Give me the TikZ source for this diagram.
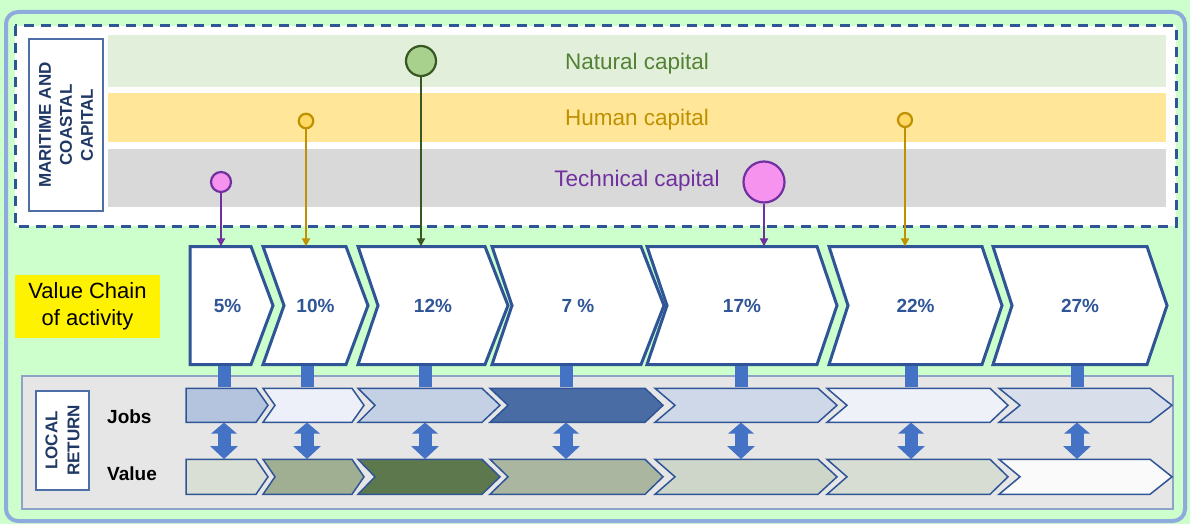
\documentclass[tikz,border=0pt]{standalone}
\usepackage{fontspec}
\setmainfont{Liberation Sans}
\usepackage{xcolor}
\usetikzlibrary{shapes,arrows.meta,positioning,calc}

\definecolor{bgGreen}{HTML}{CCFFCC}
\definecolor{frameBlue}{HTML}{8FAADC}
\definecolor{darkBlue}{HTML}{2F5597}
\definecolor{navy}{HTML}{1F3864}
\definecolor{barBlue}{HTML}{4472C4}
\definecolor{natFill}{HTML}{E2EFDA}
\definecolor{natText}{HTML}{548235}
\definecolor{humFill}{HTML}{FFE699}
\definecolor{humText}{HTML}{BF9000}
\definecolor{tecFill}{HTML}{D9D9D9}
\definecolor{tecText}{HTML}{7030A0}
\definecolor{pinkFill}{HTML}{F593EE}
\definecolor{goldFill}{HTML}{FFD966}
\definecolor{greenFill}{HTML}{A9D18E}
\definecolor{greenLine}{HTML}{385723}
\definecolor{localGray}{HTML}{E7E6E6}
\definecolor{localEdge}{HTML}{8FA3C8}
% jobs and value shades
\definecolor{jA}{HTML}{B4C4DE}
\definecolor{jB}{HTML}{EDF0F8}
\definecolor{jC}{HTML}{C4D0E4}
\definecolor{jD}{HTML}{4A6CA5}
\definecolor{jE}{HTML}{CFD8E8}
\definecolor{jF}{HTML}{EEF1F8}
\definecolor{jG}{HTML}{D8DFEB}
\definecolor{vA}{HTML}{DADFD5}
\definecolor{vB}{HTML}{A0AE92}
\definecolor{vC}{HTML}{5E784E}
\definecolor{vD}{HTML}{AAB6A0}
\definecolor{vE}{HTML}{CED6C9}
\definecolor{vF}{HTML}{D8DDD3}
\definecolor{vG}{HTML}{FAFAFA}

% style, name, left, right, top, bottom, tip depth, notch depth, label
\newcommand{\chevron}[9]{%
  \draw[#1] (#3,#5) -- (#4,#5) -- ({#4+#7},{(#5+#6)/2}) -- (#4,#6) -- (#3,#6) -- ({#3+#8},{(#5+#6)/2}) -- cycle;
  \node[pct, inner sep=0pt, minimum width={(#4+#7-#3)*1pt}, minimum height={(#6-#5)*1pt}] (#2) at ({(#3+#4+#7)/2},{(#5+#6)/2}) {#9};}

\begin{document}
\begin{tikzpicture}[x=1pt, y=-1pt]
    \tikzstyle{frame} = [draw=frameBlue, line width=4pt, rounded corners=12pt]
    \tikzstyle{capbox} = [draw=darkBlue, fill=white, line width=3pt, dash pattern=on 10pt off 7pt]
    \tikzstyle{band} = [rectangle, inner sep=0pt, text depth=0pt, font=\fontsize{22.5}{26}\selectfont]
    \tikzstyle{vlabel} = [rectangle, draw=darkBlue!85, fill=white, line width=1.5pt, rotate=90, align=center, text=navy, inner sep=0pt]
    \tikzstyle{pinball} = [circle, line width=2.2pt, inner sep=0pt]
    \tikzstyle{pinline} = [line width=2pt, -{Triangle[length=8pt,width=8pt]}]
    \tikzstyle{chevTop} = [draw=darkBlue, fill=white, line width=3pt]
    \tikzstyle{chevLow} = [draw=darkBlue, line width=1.5pt]
    \tikzstyle{pct} = [font=\bfseries\fontsize{19}{22}\selectfont, text=darkBlue]
    \tikzstyle{bar} = [barBlue, line width=13pt, shorten <=1.5pt, shorten >=0.75pt]
    \tikzstyle{dbl} = [barBlue, line width=13pt, {Triangle[width=25pt,length=11pt]}-{Triangle[width=27pt,length=13pt]}]
    \tikzstyle{rowlabel} = [font=\bfseries\fontsize{19}{22}\selectfont, anchor=west, inner sep=0pt]

    \useasboundingbox (0,0) rectangle (1190,524);
    \fill[bgGreen] (0,0) rectangle (1190,524);
    \draw[frame] (6,12) rectangle (1185,521);

    % capital stocks
    \draw[capbox] (15,26) rectangle (1176,226);
    \node[band, fill=natFill, text=natText, minimum width=1058pt, minimum height=52pt] (natural) at (637,61) {Natural capital};
    \node[band, fill=humFill, text=humText, minimum width=1058pt, minimum height=49pt] (human) at (637,117.5) {Human capital};
    \node[band, fill=tecFill, text=tecText, minimum width=1058pt, minimum height=58pt] (technical) at (637,178) {Technical capital};
    \node[vlabel, minimum width=172pt, minimum height=74pt, font=\bfseries\fontsize{17}{21}\selectfont] (maritime) at (66,125) {MARITIME AND\\COASTAL\\CAPITAL};

    \node[fill=yellow, minimum width=145pt, minimum height=63pt, align=center, font=\fontsize{22}{27}\selectfont] (chain) at (87.5,306.5) {\raisebox{-2pt}{Value Chain}\\\raisebox{-2pt}{of activity}};

    % local return
    \draw[fill=localGray, draw=localEdge, line width=1.2pt] (22,376) rectangle (1173,509);
    \node[vlabel, line width=1.2pt, minimum width=99pt, minimum height=53pt, font=\bfseries\fontsize{17}{22}\selectfont] (local) at (62.5,440.5) {LOCAL\\RETURN};
    \node[rowlabel] (jobs) at (107,417) {Jobs};
    \node[rowlabel] (value) at (107,474) {Value};

    \chevron{chevTop}{c1}{190}{251}{246.5}{364.5}{22}{0}{\hspace*{-8pt}5\%}
    \chevron{chevTop}{c2}{263}{346}{246.5}{364.5}{22}{21}{10\%}
    \chevron{chevTop}{c3}{358}{485}{246.5}{364.5}{23}{20}{12\%}
    \chevron{chevTop}{c4}{492}{641}{246.5}{364.5}{23}{20}{7 \%}
    \chevron{chevTop}{c5}{647}{817}{246.5}{364.5}{20}{20}{17\%}
    \chevron{chevTop}{c6}{829}{982}{246.5}{364.5}{20}{19}{22\%}
    \chevron{chevTop}{c7}{993}{1147}{246.5}{364.5}{20}{19}{27\%}

    \chevron{chevLow, fill=jA}{j1}{186}{256}{388.3}{422.3}{12}{0}{}
    \chevron{chevLow, fill=jB}{j2}{263}{352}{388.3}{422.3}{12}{12}{}
    \chevron{chevLow, fill=jC}{j3}{358}{482}{388.3}{422.3}{18}{17}{}
    \chevron{chevLow, fill=jD}{j4}{490}{645}{388.3}{422.3}{18}{18}{}
    \chevron{chevLow, fill=jE}{j5}{655}{818}{388.3}{422.3}{19}{20}{}
    \chevron{chevLow, fill=jF}{j6}{827}{990}{388.3}{422.3}{18}{20}{}
    \chevron{chevLow, fill=jG}{j7}{999}{1150}{388.3}{422.3}{22}{21}{}

    \chevron{chevLow, fill=vA}{v1}{186}{256}{459.3}{494.3}{12}{0}{}
    \chevron{chevLow, fill=vB}{v2}{263}{352}{459.3}{494.3}{12}{12}{}
    \chevron{chevLow, fill=vC}{v3}{358}{482}{459.3}{494.3}{18}{17}{}
    \chevron{chevLow, fill=vD}{v4}{490}{645}{459.3}{494.3}{18}{18}{}
    \chevron{chevLow, fill=vE}{v5}{655}{818}{459.3}{494.3}{19}{20}{}
    \chevron{chevLow, fill=vF}{v6}{827}{990}{459.3}{494.3}{18}{20}{}
    \chevron{chevLow, fill=vG}{v7}{999}{1150}{459.3}{494.3}{22}{21}{}

    % links from each activity to its local return
    \foreach \n/\x in {1/224, 2/307, 3/425, 4/566, 5/741, 6/911, 7/1077} {
        \coordinate (b\n) at (\x,0);
        \draw[bar] (b\n |- c\n.south) -- (b\n |- j\n.north);
        \draw[dbl] (b\n |- j\n.south) -- (b\n |- v\n.north);
    }

    % capital inputs
    \node[pinball, draw=tecText, fill=pinkFill, minimum size=20pt] (p1) at (221,182) {};
    \node[pinball, draw=humText, fill=goldFill, minimum size=14.5pt] (p2) at (306,121) {};
    \node[pinball, draw=greenLine, fill=greenFill, minimum size=30pt] (p3) at (421,61) {};
    \node[pinball, draw=tecText, fill=pinkFill, minimum size=41pt] (p4) at (764,182) {};
    \node[pinball, draw=humText, fill=goldFill, minimum size=14pt] (p5) at (905,120) {};
    \draw[pinline, tecText] (p1.south) -- (p1 |- c1.north);
    \draw[pinline, humText] (p2.south) -- (p2 |- c2.north);
    \draw[pinline, greenLine] (p3.south) -- (p3 |- c3.north);
    \draw[pinline, tecText] (p4.south) -- (p4 |- c5.north);
    \draw[pinline, humText] (p5.south) -- (p5 |- c6.north);
\end{tikzpicture}
\end{document}
